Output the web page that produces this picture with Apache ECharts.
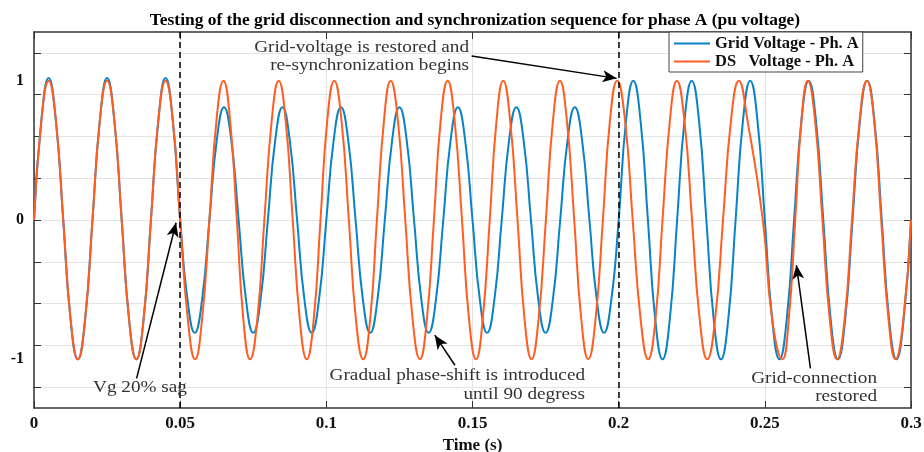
<!DOCTYPE html>
<html>
<head>
<meta charset="utf-8">
<script src="https://cdn.jsdelivr.net/npm/echarts@6/dist/echarts.min.js"></script>
<style>html,body{margin:0;padding:0;background:#fff}#c{width:924px;height:452px}</style>
</head>
<body>
<div id="c"></div>
<script>
// ---- data ----
const titleText = 'Testing of the grid disconnection and synchronization sequence for phase A (pu voltage)';
const seriesNames = ['Grid Voltage - Ph. A', 'DS   Voltage - Ph. A'];
const xTickLabels = ['0', '0.05', '0.1', '0.15', '0.2', '0.25', '0.3'];
const yLabelValues = [-1, 0, 1];
const yGridValues = [-1.2, -0.9, -0.6, -0.3, 0, 0.3, 0.6, 0.9, 1.2];
const eventTimes = [0.05, 0.2];

const gridTime = [
 0,0.0025,0.005,0.0075,0.01,0.0125,0.015,0.0175,0.02,0.0225,0.025,0.0275,0.03,0.0325,0.035,0.0375,0.04,0.0425,0.045,0.0475,0.05,
 0.0525,0.055,0.0575,0.06,0.0625,0.065,0.0675,0.07,0.0725,0.075,0.0775,0.08,0.0825,0.085,0.0875,0.09,0.0925,0.095,0.0975,0.1,
 0.1025,0.105,0.1075,0.11,0.1125,0.115,0.1175,0.12,0.1225,0.125,0.1275,0.13,0.1325,0.135,0.1375,0.14,0.1425,0.145,0.1475,0.15,
 0.1525,0.155,0.1575,0.16,0.1625,0.165,0.1675,0.17,0.1725,0.175,0.1775,0.18,0.1825,0.185,0.1875,0.19,0.1925,0.195,0.1975,0.2,
 0.2025,0.205,0.2075,0.21,0.2125,0.215,0.2175,0.22,0.2225,0.225,0.2275,0.23,0.2325,0.235,0.2375,0.24,0.2425,0.245,0.2475,0.25,
 0.2525,0.255,0.2575,0.26,0.2625,0.265,0.2675,0.27,0.2725,0.275,0.2775,0.28,0.2825,0.285,0.2875,0.29,0.2925,0.295,0.2975,0.3
];
const gridVolt = [
 0,0.71,1.02,0.71,0,-0.71,-1,-0.71,0,0.71,1.02,0.71,0,-0.71,-1,-0.71,0,0.71,1.02,0.71,0,
 -0.57,-0.81,-0.57,0,0.57,0.81,0.57,0,-0.57,-0.81,-0.57,0,0.57,0.81,0.57,0,-0.57,-0.81,-0.57,0,
 0.57,0.81,0.57,0,-0.57,-0.81,-0.57,0,0.57,0.81,0.57,0,-0.57,-0.81,-0.57,0,0.57,0.81,0.57,0,
 -0.57,-0.81,-0.57,0,0.57,0.81,0.57,0,-0.57,-0.81,-0.57,0,0.57,0.81,0.57,0,-0.57,-0.81,-0.57,0,
 0.71,1,0.71,0,-0.71,-1,-0.71,0,0.71,1,0.71,0,-0.71,-1,-0.71,0,0.71,1,0.71,0,
 -0.71,-1,-0.71,0,0.71,1,0.71,0,-0.71,-1,-0.71,0,0.71,1,0.71,0,-0.71,-1,-0.71,0
];

const dsTime = [
 0,0.0025,0.005,
 0.0075,0.01,0.0125,0.015, 0.0175,0.02,0.0225,0.025, 0.0275,0.03,0.0325,0.035, 0.0375,0.04,0.0425,0.045,
 0.0475,0.05,0.0526,0.0551, 0.0575,0.06,0.0624,0.0648, 0.0671,0.0694,0.0716,0.0739, 0.0764,0.0788,0.0813,0.0837,
 0.0861,0.0885,0.0909,0.0933, 0.0957,0.098,0.1003,0.1027, 0.1052,0.1077,0.1101,0.1126, 0.115,0.1173,0.1197,0.122,
 0.1245,0.127,0.1295,0.132, 0.1344,0.1368,0.1391,0.1415, 0.1439,0.1464,0.1488,0.1512, 0.1535,0.1559,0.1582,0.1605,
 0.1629,0.1654,0.1678,0.1702, 0.1726,0.1751,0.1775,0.1799, 0.1823,0.1848,0.1872,0.1896, 0.1921,0.1946,0.197,0.1995,
 0.2022,0.2048,0.2075,0.2101, 0.2126,0.215,0.2175,0.2199, 0.2225,0.2251,0.2277,0.2303, 0.233,0.2357,0.2384,0.2411,
 0.2441,0.2493,0.2525,0.256, 0.2582,0.2604,0.2625,0.2647, 0.2672,0.2697,0.2722,0.2747, 0.2773,0.2798,0.2824,0.2849,
 0.2874,0.2898,0.2923,0.2947, 0.2974,0.3
];
const dsVolt = [
 0,0.71,1,
 0.71,0,-0.71,-1, -0.71,0,0.71,1, 0.71,0,-0.71,-1, -0.71,0,0.71,1,
 0.71,0,-0.71,-1, -0.71,0,0.71,1, 0.71,0,-0.71,-1, -0.71,0,0.71,1,
 0.71,0,-0.71,-1, -0.71,0,0.71,1, 0.71,0,-0.71,-1, -0.71,0,0.71,1,
 0.71,0,-0.71,-1, -0.71,0,0.71,1, 0.71,0,-0.71,-1, -0.71,0,0.71,1,
 0.71,0,-0.71,-1, -0.71,0,0.71,1, 0.71,0,-0.71,-1, -0.71,0,0.71,1,
 0.71,0,-0.71,-1, -0.71,0,0.71,1, 0.71,0,-0.71,-1, -0.71,0,0.71,1,
 0.71,0,-0.71,-1, -0.71,0,0.71,1, 0.71,0,-0.71,-1, -0.71,0,0.71,1,
 0.71,0,-0.71,-1, -0.71,0
];

// annotation arrows: [tailTime, tailValue, tipTime, tipValue]
const arrowSag = [0.0351, -1.137, 0.0486, -0.02];
const arrowResync = [0.1497, 1.178, 0.1993, 1.017];
const arrowShift = [0.144, -1.043, 0.1371, -0.827];
const arrowRestore = [0.2656, -1.065, 0.2608, -0.324];

// ---- chart ----
const SERIF = '"Liberation Serif", "Times New Roman", serif';
const BLUE = '#0a82c6';
const ORANGE = '#ff5d22';
const zip = (a, b) => a.map((v, i) => [v, b[i]]);
const arrow = a => [{ coord: [a[0], a[1]] }, { coord: [a[2], a[3]] }];

const chart = echarts.init(document.getElementById('c'), null, { renderer: 'canvas' });
const axisLineStyle = { color: '#333', width: 1.5 };
const tickStyle = { color: '#333', width: 1 };
const gridLine = { show: true, lineStyle: { color: '#e3e3e3', width: 1 } };
const annoFont = '16px ' + SERIF;
const anno = (x, y, text, align) => ({
  type: 'text', x: x, y: y, scaleX: 1.2, z: 100,
  style: { text: text, align: align, verticalAlign: 'middle', font: annoFont, fill: '#333' }
});
const option = {
  animation: false,
  backgroundColor: '#fff',
  title: {
    text: titleText, left: 470, top: 7, textAlign: 'center',
    textStyle: { fontFamily: SERIF, fontWeight: 'bold', fontSize: 17.4, color: '#000' }
  },
  legend: {
    data: seriesNames, orient: 'vertical', left: 669, top: 32,
    icon: 'rect', itemWidth: 36, itemHeight: 2, itemGap: 1,
    padding: [3, 4, 2, 5], borderColor: '#444', borderWidth: 1, backgroundColor: '#fff',
    textStyle: { fontFamily: SERIF, fontWeight: 'bold', fontSize: 16.5, color: '#111', lineHeight: 14 }
  },
  grid: { left: 34, right: 13, top: 32, bottom: 44, outerBoundsMode: 'none', containLabel: false },
  xAxis: [{
    type: 'value', min: 0, max: 0.3, interval: 0.05, position: 'bottom',
    name: 'Time (s)', nameLocation: 'middle', nameGap: 20,
    nameTextStyle: { fontFamily: SERIF, fontWeight: 'bold', fontSize: 17, color: '#111' },
    axisLine: { show: true, onZero: false, lineStyle: axisLineStyle },
    axisTick: { show: true, inside: true, length: 7, lineStyle: tickStyle },
    axisLabel: { margin: 7, fontFamily: SERIF, fontWeight: 'bold', fontSize: 17, color: '#111',
      formatter: (v, i) => xTickLabels[i] },
    splitLine: gridLine
  }, {
    type: 'value', min: 0, max: 0.3, interval: 0.05, position: 'top',
    axisLine: { show: true, onZero: false, lineStyle: axisLineStyle },
    axisTick: { show: true, inside: true, length: 7, lineStyle: tickStyle },
    axisLabel: { show: false }, splitLine: { show: false }
  }],
  yAxis: [{
    type: 'value', min: -1.35, max: 1.35, position: 'left',
    axisLine: { show: true, onZero: false, lineStyle: axisLineStyle },
    axisTick: { show: false },
    axisLabel: { customValues: yLabelValues, margin: 10, fontFamily: SERIF, fontWeight: 'bold', fontSize: 16, color: '#111' },
    splitLine: { show: false }
  }, {
    type: 'value', min: -1.35, max: 1.35, position: 'left',
    axisLine: { show: false, onZero: false },
    axisTick: { show: true, inside: true, length: 7, customValues: yGridValues, lineStyle: tickStyle },
    axisLabel: { show: false }, splitLine: gridLine
  }, {
    type: 'value', min: -1.35, max: 1.35, position: 'right',
    axisLine: { show: true, onZero: false, lineStyle: axisLineStyle },
    axisTick: { show: true, inside: true, length: 7, customValues: yGridValues, lineStyle: tickStyle },
    axisLabel: { show: false }, splitLine: { show: false }
  }],
  series: [{
    name: seriesNames[0], type: 'line', data: zip(gridTime, gridVolt),
    smooth: 0.5, symbol: 'none', color: BLUE, lineStyle: { color: BLUE, width: 2 }, z: 2
  }, {
    name: seriesNames[1], type: 'line', data: zip(dsTime, dsVolt),
    smooth: 0.5, symbol: 'none', color: ORANGE, lineStyle: { color: ORANGE, width: 2 }, z: 3
  }, {
    name: 'events', type: 'line', data: [], z: 5,
    markLine: {
      silent: true, animation: false, symbol: ['none', 'none'],
      label: { show: false },
      lineStyle: { color: '#000', width: 1.5, type: [6, 4] },
      data: eventTimes.map(t => ({ xAxis: t }))
    }
  }, {
    name: 'arrows', type: 'line', data: [], z: 6,
    markLine: {
      silent: true, animation: false, symbol: ['none', 'arrow'], symbolSize: [9, 14],
      label: { show: false },
      lineStyle: { color: '#000', width: 1.5, type: 'solid' },
      data: [arrow(arrowSag), arrow(arrowResync), arrow(arrowShift), arrow(arrowRestore)]
    }
  }],
  graphic: [
    anno(140, 388, 'Vg 20% sag', 'center'),
    anno(469, 48, 'Grid-voltage is restored and', 'right'),
    anno(469, 66, 're-synchronization begins', 'right'),
    anno(585, 376, 'Gradual phase-shift is introduced', 'right'),
    anno(585, 395, 'until 90 degress', 'right'),
    anno(877, 379, 'Grid-connection', 'right'),
    anno(877, 397, 'restored', 'right')
  ]
};
chart.setOption(option);
</script>
</body>
</html>
